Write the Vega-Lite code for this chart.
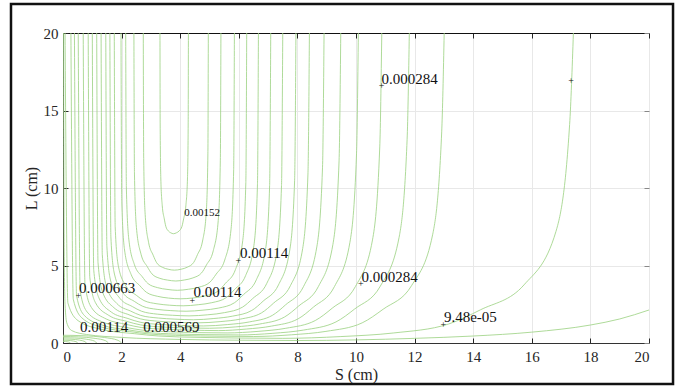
{
"$schema": "https://vega.github.io/schema/vega-lite/v6.json",
"width": 586, "height": 310,
"autosize": {"type": "none"},
"padding": {"left": 63, "top": 33, "right": 42, "bottom": 44},
"background": "white",
"config": {"view": {"stroke": null}, "font": "Liberation Serif",
 "axis": {"labelFont": "Liberation Serif", "titleFont": "Liberation Serif", "labelFontSize": 15, "titleFontSize": 16, "titleFontWeight": "normal", "labelColor": "#262626", "titleColor": "#262626", "gridColor": "#e8e8e8", "tickColor": "#262626", "domainColor": "#333333"}},
"datasets": {
"c": [
{"k":"16","s":3.31,"l":20},{"k":"16","s":3.316,"l":14.25},{"k":"16","s":3.338,"l":10.65},{"k":"16","s":3.388,"l":8.85},{"k":"16","s":3.457,"l":8.01},{"k":"16","s":3.508,"l":7.53},{"k":"16","s":3.595,"l":7.23},{"k":"16","s":3.678,"l":7.11},{"k":"16","s":3.77,"l":7.05},{"k":"16","s":3.872,"l":7.11},{"k":"16","s":3.964,"l":7.23},{"k":"16","s":4.061,"l":7.53},{"k":"16","s":4.117,"l":8.01},{"k":"16","s":4.193,"l":8.85},{"k":"16","s":4.249,"l":10.65},{"k":"16","s":4.273,"l":14.25},{"k":"16","s":4.28,"l":20},
{"k":"15","s":2.74,"l":20},{"k":"15","s":2.754,"l":11.9},{"k":"15","s":2.804,"l":8.3},{"k":"15","s":2.92,"l":6.5},{"k":"15","s":3.079,"l":5.66},{"k":"15","s":3.196,"l":5.18},{"k":"15","s":3.397,"l":4.88},{"k":"15","s":3.588,"l":4.76},{"k":"15","s":3.8,"l":4.7},{"k":"15","s":4.032,"l":4.76},{"k":"15","s":4.241,"l":4.89},{"k":"15","s":4.461,"l":5.2},{"k":"15","s":4.589,"l":5.7},{"k":"15","s":4.763,"l":6.58},{"k":"15","s":4.89,"l":8.45},{"k":"15","s":4.945,"l":12.2},{"k":"15","s":4.96,"l":20},
{"k":"14","s":2.42,"l":20},{"k":"14","s":2.439,"l":10.9},{"k":"14","s":2.506,"l":7.45},{"k":"14","s":2.663,"l":5.73},{"k":"14","s":2.878,"l":4.92},{"k":"14","s":3.035,"l":4.46},{"k":"14","s":3.307,"l":4.17},{"k":"14","s":3.564,"l":4.06},{"k":"14","s":3.85,"l":4.0},{"k":"14","s":4.158,"l":4.07},{"k":"14","s":4.435,"l":4.2},{"k":"14","s":4.728,"l":4.52},{"k":"14","s":4.897,"l":5.04},{"k":"14","s":5.128,"l":5.95},{"k":"14","s":5.298,"l":7.9},{"k":"14","s":5.37,"l":11.8},{"k":"14","s":5.39,"l":20},
{"k":"13","s":2.14,"l":20},{"k":"13","s":2.163,"l":10.0},{"k":"13","s":2.246,"l":6.7},{"k":"13","s":2.439,"l":5.05},{"k":"13","s":2.703,"l":4.28},{"k":"13","s":2.897,"l":3.84},{"k":"13","s":3.231,"l":3.57},{"k":"13","s":3.548,"l":3.46},{"k":"13","s":3.9,"l":3.4},{"k":"13","s":4.29,"l":3.47},{"k":"13","s":4.641,"l":3.6},{"k":"13","s":5.012,"l":3.92},{"k":"13","s":5.226,"l":4.44},{"k":"13","s":5.519,"l":5.35},{"k":"13","s":5.733,"l":7.3},{"k":"13","s":5.825,"l":11.2},{"k":"13","s":5.85,"l":20},
{"k":"12","s":1.98,"l":20},{"k":"12","s":2.006,"l":9.15},{"k":"12","s":2.101,"l":6.0},{"k":"12","s":2.323,"l":4.43},{"k":"12","s":2.626,"l":3.69},{"k":"12","s":2.849,"l":3.27},{"k":"12","s":3.232,"l":3.01},{"k":"12","s":3.596,"l":2.9},{"k":"12","s":4.0,"l":2.85},{"k":"12","s":4.454,"l":2.91},{"k":"12","s":4.863,"l":3.04},{"k":"12","s":5.294,"l":3.35},{"k":"12","s":5.544,"l":3.85},{"k":"12","s":5.884,"l":4.73},{"k":"12","s":6.134,"l":6.6},{"k":"12","s":6.24,"l":10.35},{"k":"12","s":6.27,"l":20},
{"k":"11","s":1.75,"l":20},{"k":"11","s":1.781,"l":7.5},{"k":"11","s":1.891,"l":4.95},{"k":"11","s":2.149,"l":3.68},{"k":"11","s":2.502,"l":3.08},{"k":"11","s":2.761,"l":2.74},{"k":"11","s":3.207,"l":2.53},{"k":"11","s":3.63,"l":2.44},{"k":"11","s":4.1,"l":2.4},{"k":"11","s":4.614,"l":2.47},{"k":"11","s":5.077,"l":2.6},{"k":"11","s":5.565,"l":2.92},{"k":"11","s":5.848,"l":3.44},{"k":"11","s":6.233,"l":4.35},{"k":"11","s":6.516,"l":6.3},{"k":"11","s":6.637,"l":10.2},{"k":"11","s":6.67,"l":20},
{"k":"10","s":1.6,"l":20},{"k":"10","s":1.634,"l":6.85},{"k":"10","s":1.756,"l":4.45},{"k":"10","s":2.042,"l":3.25},{"k":"10","s":2.432,"l":2.69},{"k":"10","s":2.718,"l":2.37},{"k":"10","s":3.212,"l":2.17},{"k":"10","s":3.68,"l":2.09},{"k":"10","s":4.2,"l":2.05},{"k":"10","s":4.778,"l":2.12},{"k":"10","s":5.298,"l":2.25},{"k":"10","s":5.847,"l":2.59},{"k":"10","s":6.165,"l":3.13},{"k":"10","s":6.599,"l":4.08},{"k":"10","s":6.917,"l":6.1},{"k":"10","s":7.052,"l":10.15},{"k":"10","s":7.09,"l":20},
{"k":"9","s":1.46,"l":20},{"k":"9","s":1.497,"l":6.25},{"k":"9","s":1.63,"l":4.0},{"k":"9","s":1.943,"l":2.88},{"k":"9","s":2.369,"l":2.35},{"k":"9","s":2.681,"l":2.05},{"k":"9","s":3.221,"l":1.86},{"k":"9","s":3.732,"l":1.79},{"k":"9","s":4.3,"l":1.75},{"k":"9","s":4.94,"l":1.82},{"k":"9","s":5.516,"l":1.96},{"k":"9","s":6.124,"l":2.31},{"k":"9","s":6.476,"l":2.87},{"k":"9","s":6.956,"l":3.85},{"k":"9","s":7.308,"l":5.95},{"k":"9","s":7.458,"l":10.15},{"k":"9","s":7.5,"l":20},
{"k":"8","s":1.3,"l":20},{"k":"8","s":1.341,"l":5.7},{"k":"8","s":1.489,"l":3.6},{"k":"8","s":1.836,"l":2.55},{"k":"8","s":2.308,"l":2.06},{"k":"8","s":2.655,"l":1.78},{"k":"8","s":3.253,"l":1.61},{"k":"8","s":3.82,"l":1.54},{"k":"8","s":4.45,"l":1.5},{"k":"8","s":5.15,"l":1.58},{"k":"8","s":5.78,"l":1.73},{"k":"8","s":6.445,"l":2.1},{"k":"8","s":6.83,"l":2.7},{"k":"8","s":7.355,"l":3.75},{"k":"8","s":7.74,"l":6.0},{"k":"8","s":7.905,"l":10.5},{"k":"8","s":7.95,"l":20},
{"k":"7","s":1.15,"l":20},{"k":"7","s":1.195,"l":5.2},{"k":"7","s":1.357,"l":3.25},{"k":"7","s":1.737,"l":2.28},{"k":"7","s":2.254,"l":1.82},{"k":"7","s":2.634,"l":1.56},{"k":"7","s":3.289,"l":1.4},{"k":"7","s":3.91,"l":1.33},{"k":"7","s":4.6,"l":1.3},{"k":"7","s":5.362,"l":1.38},{"k":"7","s":6.048,"l":1.54},{"k":"7","s":6.772,"l":1.94},{"k":"7","s":7.191,"l":2.58},{"k":"7","s":7.762,"l":3.7},{"k":"7","s":8.181,"l":6.1},{"k":"7","s":8.36,"l":10.9},{"k":"7","s":8.41,"l":20},
{"k":"6","s":1.0,"l":20},{"k":"6","s":1.049,"l":4.7},{"k":"6","s":1.228,"l":2.9},{"k":"6","s":1.646,"l":2.0},{"k":"6","s":2.216,"l":1.58},{"k":"6","s":2.634,"l":1.34},{"k":"6","s":3.356,"l":1.19},{"k":"6","s":4.04,"l":1.13},{"k":"6","s":4.8,"l":1.1},{"k":"6","s":5.622,"l":1.19},{"k":"6","s":6.362,"l":1.36},{"k":"6","s":7.143,"l":1.78},{"k":"6","s":7.595,"l":2.46},{"k":"6","s":8.211,"l":3.65},{"k":"6","s":8.663,"l":6.2},{"k":"6","s":8.857,"l":11.3},{"k":"6","s":8.91,"l":20},
{"k":"5","s":0.86,"l":20},{"k":"5","s":0.914,"l":4.25},{"k":"5","s":1.108,"l":2.6},{"k":"5","s":1.564,"l":1.78},{"k":"5","s":2.185,"l":1.39},{"k":"5","s":2.64,"l":1.17},{"k":"5","s":3.427,"l":1.03},{"k":"5","s":4.172,"l":0.98},{"k":"5","s":5.0,"l":0.95},{"k":"5","s":5.896,"l":1.04},{"k":"5","s":6.702,"l":1.22},{"k":"5","s":7.554,"l":1.67},{"k":"5","s":8.046,"l":2.39},{"k":"5","s":8.718,"l":3.65},{"k":"5","s":9.211,"l":6.35},{"k":"5","s":9.422,"l":11.75},{"k":"5","s":9.48,"l":20},
{"k":"4","s":0.69,"l":20},{"k":"4","s":0.75,"l":3.8},{"k":"4","s":0.967,"l":2.3},{"k":"4","s":1.474,"l":1.55},{"k":"4","s":2.165,"l":1.2},{"k":"4","s":2.672,"l":1.0},{"k":"4","s":3.548,"l":0.88},{"k":"4","s":4.378,"l":0.83},{"k":"4","s":5.3,"l":0.8},{"k":"4","s":6.256,"l":0.9},{"k":"4","s":7.116,"l":1.09},{"k":"4","s":8.025,"l":1.56},{"k":"4","s":8.55,"l":2.32},{"k":"4","s":9.267,"l":3.65},{"k":"4","s":9.793,"l":6.5},{"k":"4","s":10.018,"l":12.2},{"k":"4","s":10.08,"l":20},
{"k":"3","s":0.52,"l":20},{"k":"3","s":0.586,"l":3.35},{"k":"3","s":0.825,"l":2.0},{"k":"3","s":1.384,"l":1.33},{"k":"3","s":2.146,"l":1.01},{"k":"3","s":2.704,"l":0.83},{"k":"3","s":3.67,"l":0.72},{"k":"3","s":4.584,"l":0.67},{"k":"3","s":5.6,"l":0.65},{"k":"3","s":6.656,"l":0.75},{"k":"3","s":7.606,"l":0.95},{"k":"3","s":8.61,"l":1.45},{"k":"3","s":9.19,"l":2.25},{"k":"3","s":9.982,"l":3.65},{"k":"3","s":10.563,"l":6.65},{"k":"3","s":10.811,"l":12.65},{"k":"3","s":10.88,"l":20},
{"k":"2","s":0.39,"l":20},{"k":"2","s":0.463,"l":3.04},{"k":"2","s":0.727,"l":1.78},{"k":"2","s":1.344,"l":1.15},{"k":"2","s":2.185,"l":0.86},{"k":"2","s":2.802,"l":0.69},{"k":"2","s":3.868,"l":0.58},{"k":"2","s":4.878,"l":0.54},{"k":"2","s":6.0,"l":0.52},{"k":"2","s":7.164,"l":0.625},{"k":"2","s":8.212,"l":0.835},{"k":"2","s":9.317,"l":1.36},{"k":"2","s":9.958,"l":2.2},{"k":"2","s":10.831,"l":3.67},{"k":"2","s":11.471,"l":6.82},{"k":"2","s":11.744,"l":13.12},{"k":"2","s":11.82,"l":20},
{"k":"1b","s":0.27,"l":20},{"k":"1b","s":0.351,"l":2.82},{"k":"1b","s":0.644,"l":1.62},{"k":"1b","s":1.329,"l":1.02},{"k":"1b","s":2.264,"l":0.74},{"k":"1b","s":2.949,"l":0.58},{"k":"1b","s":4.133,"l":0.48},{"k":"1b","s":5.254,"l":0.44},{"k":"1b","s":6.5,"l":0.42},{"k":"1b","s":7.802,"l":0.53},{"k":"1b","s":8.974,"l":0.75},{"k":"1b","s":10.211,"l":1.3},{"k":"1b","s":10.927,"l":2.18},{"k":"1b","s":11.903,"l":3.72},{"k":"1b","s":12.619,"l":7.02},{"k":"1b","s":12.925,"l":13.62},{"k":"1b","s":13.01,"l":20},
{"k":"1","s":0.07,"l":20},{"k":"1","s":0.167,"l":2.58},{"k":"1","s":0.516,"l":1.44},{"k":"1","s":1.333,"l":0.87},{"k":"1","s":2.448,"l":0.6},{"k":"1","s":3.265,"l":0.45},{"k":"1","s":4.677,"l":0.36},{"k":"1","s":6.014,"l":0.32},{"k":"1","s":7.5,"l":0.3},{"k":"1","s":9.484,"l":0.415},{"k":"1","s":11.27,"l":0.645},{"k":"1","s":13.154,"l":1.22},{"k":"1","s":14.246,"l":2.14},{"k":"1","s":15.734,"l":3.75},{"k":"1","s":16.825,"l":7.2},{"k":"1","s":17.291,"l":14.1},{"k":"1","s":17.42,"l":20},
{"k":"0","s":0.02,"l":20},{"k":"0","s":0.04,"l":6},{"k":"0","s":0.07,"l":2.5},{"k":"0","s":0.13,"l":1.3},{"k":"0","s":0.3,"l":0.8},{"k":"0","s":0.8,"l":0.55},{"k":"0","s":2.0,"l":0.36},{"k":"0","s":4.0,"l":0.23},{"k":"0","s":6.0,"l":0.18},{"k":"0","s":8.0,"l":0.16},{"k":"0","s":10.0,"l":0.2},{"k":"0","s":12.0,"l":0.3},{"k":"0","s":14.0,"l":0.45},{"k":"0","s":16.0,"l":0.7},{"k":"0","s":18.0,"l":1.16},{"k":"0","s":19.0,"l":1.55},{"k":"0","s":20.0,"l":2.13},
{"k":"a1","s":0,"l":0.1},{"k":"a1","s":0.086,"l":0.094},{"k":"a1","s":0.177,"l":0.071},{"k":"a1","s":0.235,"l":0.034},{"k":"a1","s":0.25,"l":0},
{"k":"a2","s":0,"l":0.18},{"k":"a2","s":0.171,"l":0.169},{"k":"a2","s":0.354,"l":0.127},{"k":"a2","s":0.47,"l":0.062},{"k":"a2","s":0.5,"l":0},
{"k":"a3","s":0,"l":0.26},{"k":"a3","s":0.274,"l":0.244},{"k":"a3","s":0.566,"l":0.184},{"k":"a3","s":0.752,"l":0.089},{"k":"a3","s":0.8,"l":0},
{"k":"a4","s":0,"l":0.34},{"k":"a4","s":0.393,"l":0.32},{"k":"a4","s":0.813,"l":0.24},{"k":"a4","s":1.081,"l":0.116},{"k":"a4","s":1.15,"l":0},
{"k":"a5","s":0,"l":0.42},{"k":"a5","s":0.53,"l":0.395},{"k":"a5","s":1.096,"l":0.297},{"k":"a5","s":1.457,"l":0.144},{"k":"a5","s":1.55,"l":0},
{"k":"a6","s":0,"l":0.5},{"k":"a6","s":0.684,"l":0.47},{"k":"a6","s":1.414,"l":0.354},{"k":"a6","s":1.88,"l":0.171},{"k":"a6","s":2.0,"l":0}
],
"m": [
{"s":10.87,"l":16.58},{"s":5.98,"l":5.29},{"s":0.52,"l":3.03},{"s":4.41,"l":2.71},{"s":10.16,"l":3.79},{"s":12.98,"l":1.16},{"s":17.34,"l":16.9}
],
"t": [
{"t":"0.000284","s":10.87,"l":17.03},{"t":"0.00114","s":6.04,"l":5.83},{"t":"0.000663","s":0.55,"l":3.53},{"t":"0.00114","s":4.45,"l":3.27},{"t":"0.00114","s":0.58,"l":1.01},{"t":"0.000569","s":2.74,"l":1.01},{"t":"0.000284","s":10.19,"l":4.28},{"t":"9.48e-05","s":13.0,"l":1.66}
],
"u": [
{"t":"0.00152","s":4.14,"l":8.37}
]
},
"layer": [
{
 "data": {"name": "c"},
 "mark": {"type": "line", "interpolate": "monotone", "stroke": "#9fd387", "strokeWidth": 0.85, "clip": true},
 "encoding": {
  "x": {"field": "s", "type": "quantitative", "scale": {"domain": [0, 20], "nice": false, "zero": false},
        "axis": {"orient": "bottom", "title": "S (cm)", "values": [0,2,4,6,8,10,12,14,16,18,20], "tickSize": -5, "labelPadding": 11, "titlePadding": 2, "grid": true, "domainColor": "#333333"}},
  "y": {"field": "l", "type": "quantitative", "scale": {"domain": [0, 20], "nice": false, "zero": false},
        "axis": {"orient": "left", "title": "L (cm)", "values": [0,5,10,15,20], "tickSize": -5, "labelPadding": 10, "titlePadding": 4, "grid": true}},
  "detail": {"field": "k"},
  "order": {"value": null}
 }
},
{
 "data": {"name": "m"},
 "mark": {"type": "text", "text": "+", "fontSize": 10, "font": "Liberation Serif", "color": "#111111", "baseline": "middle", "align": "center"},
 "encoding": {
  "x": {"field": "s", "type": "quantitative", "axis": {"orient": "top", "labels": false, "title": null, "grid": false, "values": [0,2,4,6,8,10,12,14,16,18,20], "tickSize": -5, "domainColor": "#111111", "domainWidth": 1.2}},
  "y": {"field": "l", "type": "quantitative", "axis": {"orient": "right", "labels": false, "title": null, "grid": false, "domain": false, "values": [0,5,10,15,20], "tickSize": -5, "tickColor": "#888888"}}
 }
},
{
 "data": {"name": "t"},
 "mark": {"type": "text", "fontSize": 15, "font": "Liberation Serif", "color": "#111111", "baseline": "middle", "align": "left"},
 "encoding": {
  "x": {"field": "s", "type": "quantitative", "axis": null},
  "y": {"field": "l", "type": "quantitative", "axis": null},
  "text": {"field": "t"}
 }
},
{
 "data": {"name": "u"},
 "mark": {"type": "text", "fontSize": 11, "font": "Liberation Serif", "color": "#111111", "baseline": "middle", "align": "left"},
 "encoding": {
  "x": {"field": "s", "type": "quantitative", "axis": null},
  "y": {"field": "l", "type": "quantitative", "axis": null},
  "text": {"field": "t"}
 }
},
{
 "data": {"values": [{}]},
 "mark": {"type": "rect", "fill": null, "stroke": "#111111", "strokeWidth": 2.5, "clip": false},
 "encoding": {
  "x": {"datum": -1.775, "type": "quantitative", "axis": null},
  "x2": {"datum": 20.82},
  "y": {"datum": 21.87, "type": "quantitative", "axis": null},
  "y2": {"datum": -2.645}
 }
}
],
"resolve": {"axis": {"x": "independent", "y": "independent"}}
}
